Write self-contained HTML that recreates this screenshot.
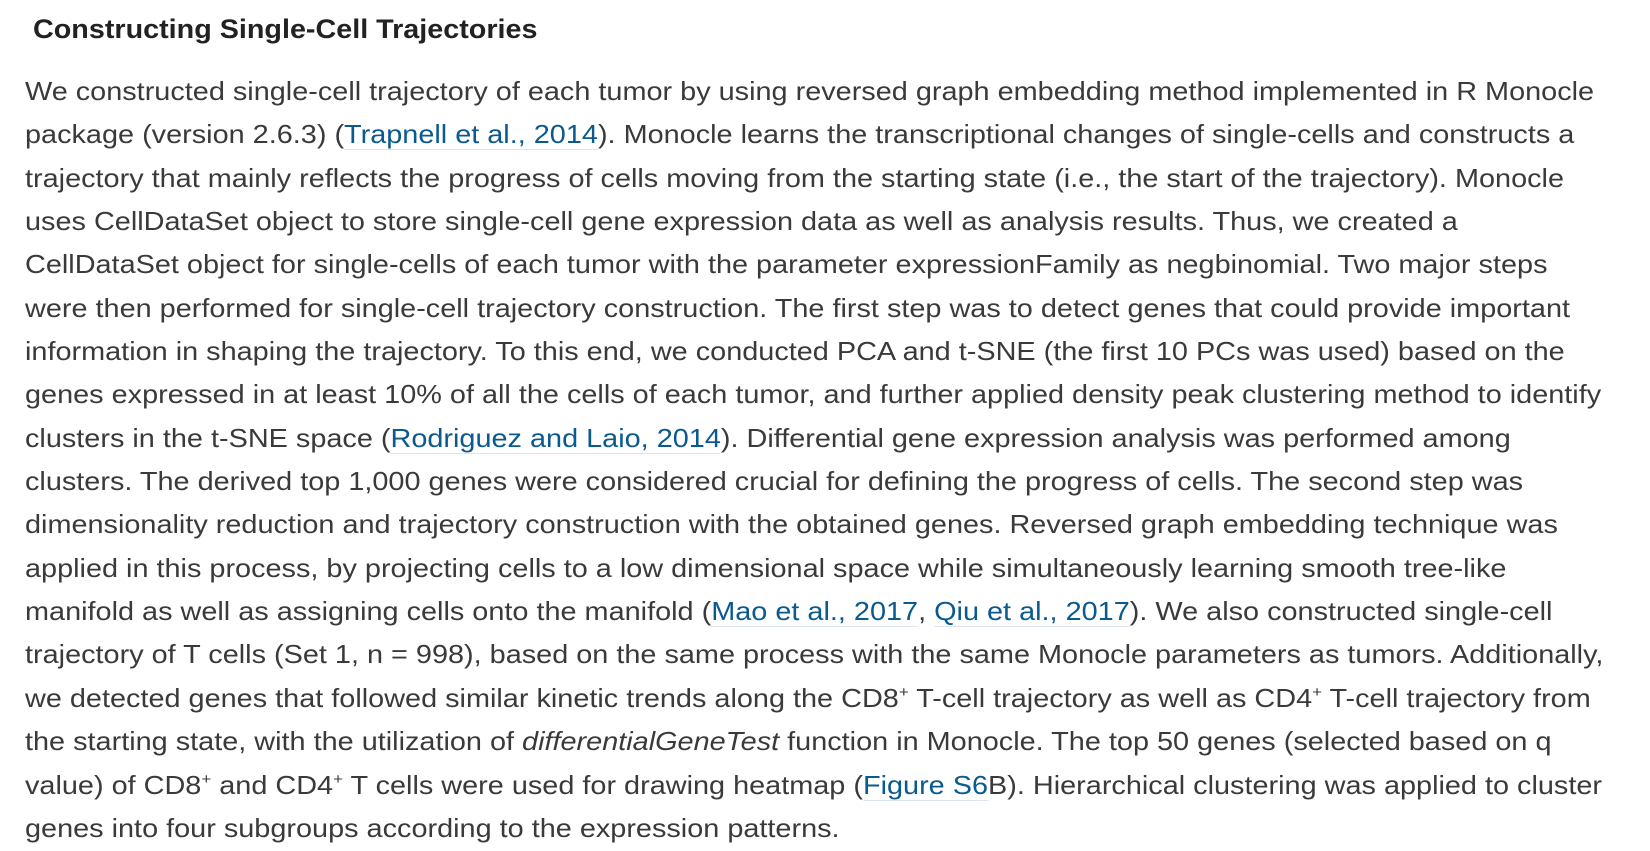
<!DOCTYPE html>
<html><head><meta charset="utf-8"><style>
html,body{margin:0;padding:0;background:#fff;width:1650px;height:848px;overflow:hidden}
body{font-family:"Liberation Sans",Arial,sans-serif;color:#333}
h3{position:absolute;left:33px;top:13px;margin:0;font-size:27px;font-weight:bold;color:#222;line-height:32px;transform:scaleX(1.064);transform-origin:0 0;white-space:nowrap}
#p{position:absolute;left:25px;top:71px;margin:0;font-size:25.6px;line-height:43.35px;white-space:nowrap;color:#3a3a3a;transform:scaleX(1.127);transform-origin:0 0}
a{color:#0a5a8f;text-decoration:none;border-bottom:1px solid #dde6ee}
sup{font-size:15px;line-height:0;vertical-align:10px}
</style></head><body>
<h3>Constructing Single-Cell Trajectories</h3>
<p id="p">We constructed single-cell trajectory of each tumor by using reversed graph embedding method implemented in R Monocle<br>
package (version 2.6.3) (<a>Trapnell et al., 2014</a>). Monocle learns the transcriptional changes of single-cells and constructs a<br>
trajectory that mainly reflects the progress of cells moving from the starting state (i.e., the start of the trajectory). Monocle<br>
uses CellDataSet object to store single-cell gene expression data as well as analysis results. Thus, we created a<br>
CellDataSet object for single-cells of each tumor with the parameter expressionFamily as negbinomial. Two major steps<br>
were then performed for single-cell trajectory construction. The first step was to detect genes that could provide important<br>
information in shaping the trajectory. To this end, we conducted PCA and t-SNE (the first 10 PCs was used) based on the<br>
genes expressed in at least 10% of all the cells of each tumor, and further applied density peak clustering method to identify<br>
clusters in the t-SNE space (<a>Rodriguez and Laio, 2014</a>). Differential gene expression analysis was performed among<br>
clusters. The derived top 1,000 genes were considered crucial for defining the progress of cells. The second step was<br>
dimensionality reduction and trajectory construction with the obtained genes. Reversed graph embedding technique was<br>
applied in this process, by projecting cells to a low dimensional space while simultaneously learning smooth tree-like<br>
manifold as well as assigning cells onto the manifold (<a>Mao et al., 2017</a>, <a>Qiu et al., 2017</a>). We also constructed single-cell<br>
trajectory of T cells (Set 1, n = 998), based on the same process with the same Monocle parameters as tumors. Additionally,<br>
we detected genes that followed similar kinetic trends along the CD8<sup>+</sup> T-cell trajectory as well as CD4<sup>+</sup> T-cell trajectory from<br>
the starting state, with the utilization of <i>differentialGeneTest</i> function in Monocle. The top 50 genes (selected based on q<br>
value) of CD8<sup>+</sup> and CD4<sup>+</sup> T cells were used for drawing heatmap (<a>Figure S6</a>B). Hierarchical clustering was applied to cluster<br>
genes into four subgroups according to the expression patterns.</p>
</body></html>
